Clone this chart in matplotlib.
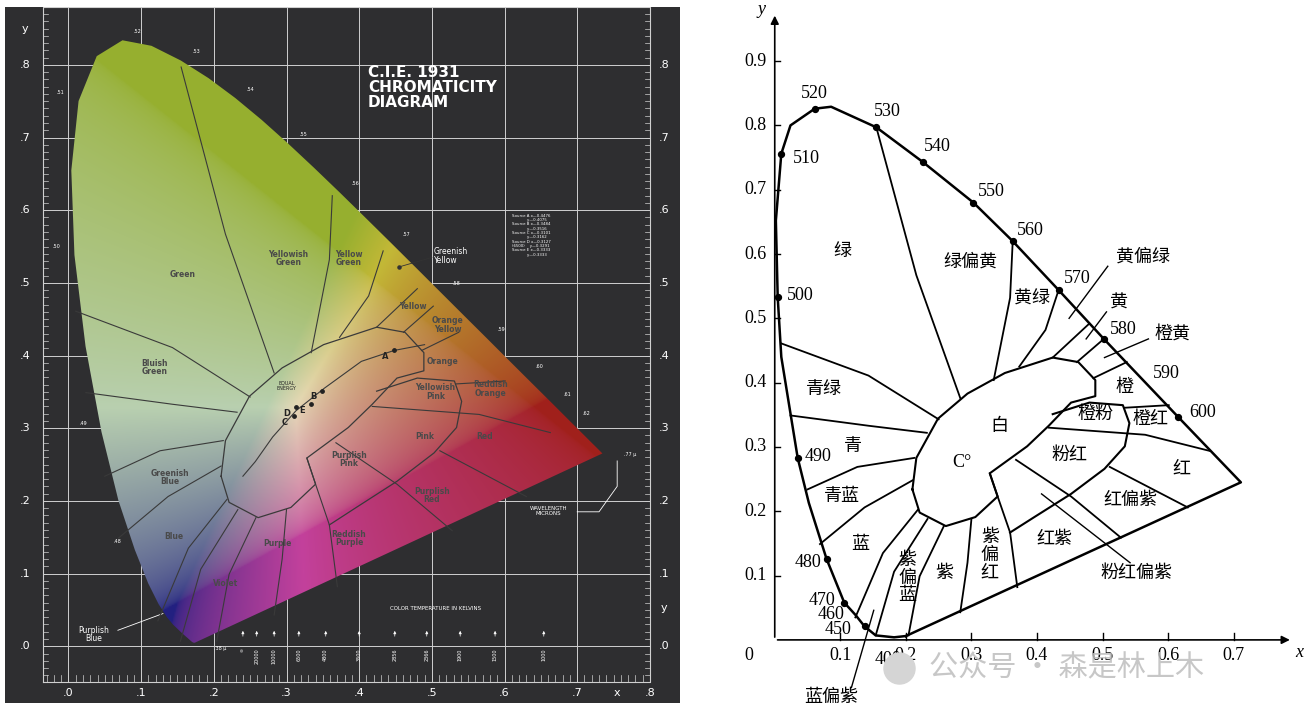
import numpy as np
import matplotlib
matplotlib.use("Agg")
import matplotlib.pyplot as plt
from matplotlib.patches import Polygon

# CIE 1931 spectral locus (nm, x, y), used for the left photo-like chart
wl = [380, 400, 420, 430, 440, 450, 460, 465, 470, 475, 480, 485, 490, 495, 500,
      505, 510, 515, 520, 525, 530, 535, 540, 545, 550, 555, 560, 565, 570, 575,
      580, 585, 590, 595, 600, 610, 620, 630, 640, 650, 660, 700]
lx = [0.1741, 0.1733, 0.1714, 0.1689, 0.1644, 0.1566, 0.1440, 0.1355, 0.1241, 0.1096,
      0.0913, 0.0687, 0.0454, 0.0235, 0.0082, 0.0039, 0.0139, 0.0389, 0.0743, 0.1142,
      0.1547, 0.1929, 0.2296, 0.2658, 0.3016, 0.3373, 0.3731, 0.4087, 0.4441, 0.4788,
      0.5125, 0.5448, 0.5752, 0.6029, 0.6270, 0.6658, 0.6915, 0.7079, 0.7190, 0.7260,
      0.7300, 0.7347]
ly = [0.0050, 0.0048, 0.0051, 0.0069, 0.0109, 0.0177, 0.0297, 0.0399, 0.0578, 0.0868,
      0.1327, 0.2007, 0.2950, 0.4127, 0.5384, 0.6548, 0.7502, 0.8120, 0.8338, 0.8262,
      0.8059, 0.7816, 0.7543, 0.7243, 0.6923, 0.6589, 0.6245, 0.5896, 0.5547, 0.5202,
      0.4866, 0.4544, 0.4242, 0.3965, 0.3725, 0.3340, 0.3083, 0.2920, 0.2809, 0.2740,
      0.2700, 0.2653]

# locus as drawn in the right (line-art) chart
r_x = [0.2, 0.182, 0.154, 0.137, 0.123, 0.106, 0.079, 0.052, 0.035, 0.01, 0.0045, 0.0017,
       0.01, 0.024, 0.061, 0.086, 0.155, 0.226, 0.303, 0.363, 0.433, 0.502, 0.615, 0.711, 0.2]
r_y = [0.006, 0.004, 0.007, 0.021, 0.039, 0.058, 0.126, 0.213, 0.283, 0.44, 0.533, 0.652,
       0.756, 0.80, 0.826, 0.829, 0.797, 0.743, 0.68, 0.62, 0.544, 0.468, 0.347, 0.245, 0.006]
r_marks = ["450", "470", "480", "490", "500", "510", "520", "530", "540", "550", "560", "570", "580", "600"]
r_mark_x = [0.137, 0.106, 0.079, 0.035, 0.0045, 0.01, 0.061, 0.155, 0.226, 0.303, 0.363, 0.433, 0.502, 0.615]
r_mark_y = [0.021, 0.058, 0.126, 0.283, 0.533, 0.756, 0.826, 0.797, 0.743, 0.68, 0.62, 0.544, 0.468, 0.347]
wl_text = ["520", "530", "510", "540", "550", "560", "570", "580", "590", "600", "500",
           "490", "480", "470", "460", "450", "400"]
wl_tx = [0.061, 0.171, 0.049, 0.248, 0.331, 0.39, 0.462, 0.531, 0.597, 0.652, 0.039,
         0.066, 0.05, 0.072, 0.086, 0.096, 0.173]
wl_ty = [0.85, 0.822, 0.748, 0.767, 0.698, 0.636, 0.562, 0.482, 0.415, 0.353, 0.535,
         0.285, 0.12, 0.062, 0.039, 0.016, -0.03]

# white region and pink lobe outlines
white_x = [0.21, 0.216, 0.249, 0.294, 0.351, 0.424, 0.463, 0.489, 0.489, 0.452, 0.418,
           0.385, 0.328, 0.34, 0.306, 0.261, 0.221, 0.21]
white_y = [0.234, 0.283, 0.344, 0.383, 0.415, 0.439, 0.432, 0.404, 0.379, 0.369, 0.333,
           0.301, 0.259, 0.223, 0.191, 0.177, 0.198, 0.234]
lobe_x = [0.424, 0.48, 0.531, 0.541, 0.534, 0.503, 0.452, 0.396, 0.359]
lobe_y = [0.351, 0.369, 0.365, 0.337, 0.301, 0.266, 0.227, 0.191, 0.167]

# hue boundaries (each a short polyline)
bounds = [
    ([0.155, 0.216, 0.283], [0.797, 0.567, 0.376]),
    ([0.363, 0.359, 0.334], [0.62, 0.532, 0.404]),
    ([0.433, 0.413, 0.373], [0.544, 0.482, 0.425]),
    ([0.48, 0.424], [0.492, 0.439]),
    ([0.502, 0.461], [0.468, 0.432]),
    ([0.537, 0.486], [0.432, 0.407]),
    ([0.601, 0.534], [0.365, 0.361]),
    ([0.663, 0.565, 0.418], [0.294, 0.319, 0.33]),
    ([0.63, 0.511], [0.206, 0.269]),
    ([0.528, 0.452, 0.368], [0.159, 0.223, 0.28]),
    ([0.328, 0.34, 0.359, 0.37], [0.259, 0.223, 0.167, 0.082]),
    ([0.01, 0.143, 0.25], [0.461, 0.411, 0.343]),
    ([0.024, 0.143, 0.232], [0.349, 0.333, 0.322]),
    ([0.05, 0.126, 0.213], [0.234, 0.269, 0.283]),
    ([0.069, 0.137, 0.21], [0.149, 0.206, 0.248]),
    ([0.123, 0.165, 0.218], [0.035, 0.135, 0.202]),
    ([0.154, 0.182, 0.233], [0.007, 0.106, 0.188]),
    ([0.204, 0.221, 0.258], [0.007, 0.099, 0.177]),
    ([0.283, 0.294, 0.3], [0.043, 0.12, 0.188]),
]

# left (English) labels
en_labels = ["Green", "Yellowish\nGreen", "Yellow\nGreen", "Yellow", "Orange\nYellow", "Orange",
             "Bluish\nGreen", "Yellowish\nPink", "Reddish\nOrange", "Pink", "Red", "Purplish\nPink",
             "Greenish\nBlue", "Purplish\nRed", "Blue", "Reddish\nPurple", "Purple", "Violet"]
en_x = [0.157, 0.303, 0.386, 0.474, 0.522, 0.515, 0.119, 0.505, 0.581, 0.49, 0.572, 0.386,
        0.14, 0.5, 0.145, 0.386, 0.288, 0.216]
en_y = [0.512, 0.534, 0.534, 0.468, 0.442, 0.392, 0.384, 0.35, 0.354, 0.289, 0.289, 0.257,
        0.232, 0.207, 0.151, 0.148, 0.142, 0.086]

# planckian locus and kelvin scale
bb_x = [0.24, 0.257, 0.281, 0.313, 0.352, 0.403, 0.448, 0.49]
bb_y = [0.234, 0.254, 0.288, 0.324, 0.355, 0.392, 0.407, 0.415]
kelvin = ["∞", "20000", "10000", "6500", "4800", "3600", "2856", "2366", "1900", "1500", "1000"]
kelvin_x = [0.24, 0.259, 0.283, 0.317, 0.354, 0.4, 0.449, 0.493, 0.539, 0.587, 0.654]
sources = ["A", "B", "C", "D", "E"]
src_x = [0.4476, 0.3484, 0.3101, 0.3127, 0.3333]
src_y = [0.4075, 0.3516, 0.3162, 0.3290, 0.3333]

# right (Chinese) labels
cn_labels = ["绿", "绿偏黄", "黄绿", "黄偏绿", "黄", "橙黄", "橙", "橙粉", "橙红", "白", "C°",
             "粉红", "红", "红偏紫", "红紫", "粉红偏紫", "青绿", "青", "青蓝", "蓝", "紫\n偏\n蓝",
             "紫", "紫\n偏\n红", "蓝偏紫"]
cn_x = [0.103, 0.299, 0.393, 0.562, 0.525, 0.607, 0.534, 0.489, 0.573, 0.342, 0.286,
        0.449, 0.621, 0.542, 0.427, 0.551, 0.075, 0.12, 0.103, 0.131, 0.202,
        0.258, 0.328, 0.086]
cn_y = [0.604, 0.588, 0.53, 0.595, 0.524, 0.476, 0.393, 0.351, 0.342, 0.332, 0.276,
        0.287, 0.266, 0.216, 0.156, 0.103, 0.39, 0.301, 0.223, 0.149, 0.096,
        0.103, 0.131, -0.089]
leaders = [((0.508, 0.581), (0.449, 0.50)), ((0.506, 0.51), (0.475, 0.468)),
           ((0.57, 0.468), (0.503, 0.439)), ((0.542, 0.12), (0.407, 0.227)),
           ((0.117, -0.074), (0.151, 0.046))]

plt.rcParams['font.family'] = ['DejaVu Sans']
fig = plt.figure(figsize=(13.11, 7.19), dpi=100)

# ---------------- left panel ----------------
ax = fig.add_axes([0.004, 0.0195, 0.515, 0.974])
ax.set_xlim(-0.087, 0.842)
ax.set_ylim(-0.078, 0.88)
ax.set_facecolor('#2e2e30')
for s in ax.spines.values():
    s.set_visible(False)
ax.set_xticks([]); ax.set_yticks([])

gc = '#d0d0d0'
for v in np.arange(0, 0.81, 0.1):
    ax.plot([v, v], [-0.049, 0.88], color=gc, lw=0.7, zorder=1)
    ax.plot([-0.035, 0.8], [v, v], color=gc, lw=0.7, zorder=1)
ax.plot([-0.035, 0.8, 0.8, -0.035, -0.035], [-0.049, -0.049, 0.88, 0.88, -0.049], color=gc, lw=0.8)
for v in np.arange(-0.03, 0.8, 0.01):
    ax.plot([v, v], [-0.049, -0.04], color=gc, lw=0.5)
for v in np.arange(-0.04, 0.88, 0.01):
    ax.plot([-0.035, -0.028], [v, v], color=gc, lw=0.5)
    ax.plot([0.793, 0.8], [v, v], color=gc, lw=0.5)
for i in range(9):
    ax.text(i / 10, -0.065, f".{i}", color='white', fontsize=8, ha='center', va='center')
    ax.text(-0.06, i / 10, f".{i}", color='white', fontsize=8, ha='center', va='center')
    ax.text(0.82, i / 10, f".{i}", color='white', fontsize=8, ha='center', va='center')
ax.text(-0.06, 0.845, "y", color='white', fontsize=8, ha='center')
ax.text(0.82, 0.048, "y", color='white', fontsize=8, ha='center')
ax.text(0.755, -0.065, "x", color='white', fontsize=8, ha='center', va='center')

# colour fill (muted, like the printed chart)
gx, gy = np.meshgrid(np.linspace(0, 0.75, 400), np.linspace(0.001, 0.85, 450))
X = gx / gy; Z = (1 - gx - gy) / gy
M = np.array([[3.2406, -1.5372, -0.4986], [-0.9689, 1.8758, 0.0415], [0.0557, -0.2040, 1.0570]])
rgb = np.einsum('ij,jkl->kli', M, np.array([X, np.ones_like(X), Z]))
rgb = np.clip(rgb, 0, None)
rgb = rgb / rgb.max(axis=2, keepdims=True)
rgb = rgb ** (1 / 2.2)
rgb[..., 0] = np.maximum(rgb[..., 0], 0.72 * rgb[..., 1])
lum = rgb.mean(axis=2, keepdims=True)
rgb = 0.55 * rgb + 0.45 * lum
rgb = np.clip(rgb * np.array([0.9, 0.85, 0.72]), 0, 1)
locus = Polygon(np.column_stack([lx, ly]), closed=True, transform=ax.transData)
im = ax.imshow(rgb, extent=(0, 0.75, 0.001, 0.85), origin='lower', zorder=2, interpolation='bilinear')
im.set_clip_path(locus)
bc = '#3a3a3a'
for bx, by in bounds:
    ax.plot(bx, by, color=bc, lw=0.8, zorder=3)
ax.plot(white_x, white_y, color=bc, lw=0.9, zorder=3)
ax.plot(lobe_x, lobe_y, color=bc, lw=0.9, zorder=3)
ax.plot(bb_x, bb_y, color=bc, lw=0.8, zorder=3)
ax.scatter(src_x, src_y, s=6, color='#222', zorder=4)
for s, x, y in zip(sources, src_x, src_y):
    ax.text(x - 0.012, y - 0.012, s, fontsize=6, color='#222', ha='center', zorder=4, fontweight='bold')
ax.text(0.3, 0.352, "EQUAL\nENERGY", fontsize=3.5, color='#222', ha='center', zorder=4)
for s, x, y in zip(en_labels, en_x, en_y):
    ax.text(x, y, s, fontsize=5.5, color='#4a4a4a', ha='center', va='center', zorder=4,
            fontweight='bold', linespacing=0.9)
ax.text(0.503, 0.537, "Greenish\nYellow", fontsize=5.5, color='white', va='center', linespacing=0.9)
ax.plot([0.455, 0.5], [0.522, 0.535], color='#333', lw=0.6, zorder=4)
ax.scatter([0.455], [0.522], s=5, color='#333', zorder=4)
ax.text(0.035, 0.016, "Purplish\nBlue", fontsize=5.5, color='white', ha='center', va='center', linespacing=0.9)
ax.plot([0.068, 0.13], [0.022, 0.045], color='white', lw=0.6)
ax.text(0.412, 0.80, "C.I.E. 1931\nCHROMATICITY\nDIAGRAM", fontsize=11, color='white',
        fontweight='bold', va='top', linespacing=1.0)
src_txt = ("Source A x—0.4476\n            y—0.4075\nSource B x—0.3484\n            y—0.3516\n"
           "Source C x—0.3101\n            y—0.3162\nSource D x—0.3127\n(6500)    y—0.3291\n"
           "Source E x—0.3333\n            y—0.3333")
ax.text(0.61, 0.595, src_txt, fontsize=2.8, color='white', va='top', linespacing=1.1)
ax.text(0.66, 0.18, "WAVELENGTH\nMICRONS", fontsize=4, color='white', ha='center', linespacing=1.0)
ax.plot([0.7, 0.73, 0.755, 0.755], [0.185, 0.185, 0.22, 0.255], color='white', lw=0.6)
ax.text(0.505, 0.05, "COLOR TEMPERATURE IN KELVINS", fontsize=4, color='white', ha='center')
for s, x in zip(kelvin, kelvin_x):
    ax.annotate("", xy=(x, 0.025), xytext=(x, 0.01),
                arrowprops=dict(arrowstyle='-|>', color='white', lw=0.5, mutation_scale=4))
    ax.text(x, -0.003, s, fontsize=3.5, color='white', rotation=90, ha='center', va='top')
for w, x, y in zip(wl, lx, ly):
    if w in (480, 490, 500, 510, 520, 530, 540, 550, 560, 570, 580, 590, 600, 610, 620):
        dx = 0.03 if x > 0.2 or w >= 520 else -0.035
        ax.text(x + dx * 0.7, y + 0.01, f".{w // 10}", fontsize=3.5, color='white', ha='center')
ax.text(0.2, -0.005, ".38 μ", fontsize=3.5, color='white')
ax.text(0.765, 0.262, ".77 μ", fontsize=3.5, color='white')

# ---------------- right panel ----------------
cn = ['Liberation Serif', 'Noto Sans CJK SC']
ar = fig.add_axes([740 / 1311, 0, 571 / 1311, 1])
ar.set_xlim(-0.053, 0.818)
ar.set_ylim(-0.123, 0.995)
ar.axis('off')
ar.annotate("", xy=(0.0, 0.975), xytext=(0, 0),
            arrowprops=dict(arrowstyle='-|>', color='black', lw=1.2, mutation_scale=12))
ar.annotate("", xy=(0.79, 0.0), xytext=(0, 0),
            arrowprops=dict(arrowstyle='-|>', color='black', lw=1.2, mutation_scale=12))
for i in range(1, 10):
    ar.plot([0, 0.008], [i / 10, i / 10], color='black', lw=1)
    ar.text(-0.012, i / 10, f"0.{i}", fontsize=13, ha='right', va='center', family=cn)
for i in range(1, 8):
    ar.plot([i / 10, i / 10], [0, 0.01], color='black', lw=1)
    ar.text(i / 10, -0.025, f"0.{i}", fontsize=13, ha='center', va='center', family=cn)
ar.text(-0.04, -0.025, "0", fontsize=13, ha='center', va='center', family=cn)
ar.text(-0.02, 0.98, "y", fontsize=13, style='italic', ha='center', va='center', family=cn)
ar.text(0.8, -0.02, "x", fontsize=13, style='italic', ha='center', va='center', family=cn)
ar.plot(r_x, r_y, color='black', lw=1.8)
for bx, by in bounds:
    ar.plot(bx, by, color='black', lw=1.3)
ar.plot(white_x, white_y, color='black', lw=1.5)
ar.plot(lobe_x, lobe_y, color='black', lw=1.5)
ar.scatter(r_mark_x, r_mark_y, s=18, color='black', zorder=5)
for s, x, y in zip(wl_text, wl_tx, wl_ty):
    ar.text(x, y, s, fontsize=13, ha='center', va='center', family=cn)
for s, x, y in zip(cn_labels, cn_x, cn_y):
    ar.text(x, y, s, fontsize=13, ha='center', va='center', family=cn, linespacing=1.05)
for (x0, y0), (x1, y1) in leaders:
    ar.plot([x0, x1], [y0, y1], color='black', lw=1)
ar.scatter([0.19], [-0.044], s=500, color='#d5d5d5', zorder=6)
ar.text(0.235, -0.044, "公众号 · 森是林上木", fontsize=21, color='#bdbdbd', alpha=0.85,
        va='center', family=['Noto Sans CJK SC'], zorder=6)

fig.savefig("out.png", dpi=100)
